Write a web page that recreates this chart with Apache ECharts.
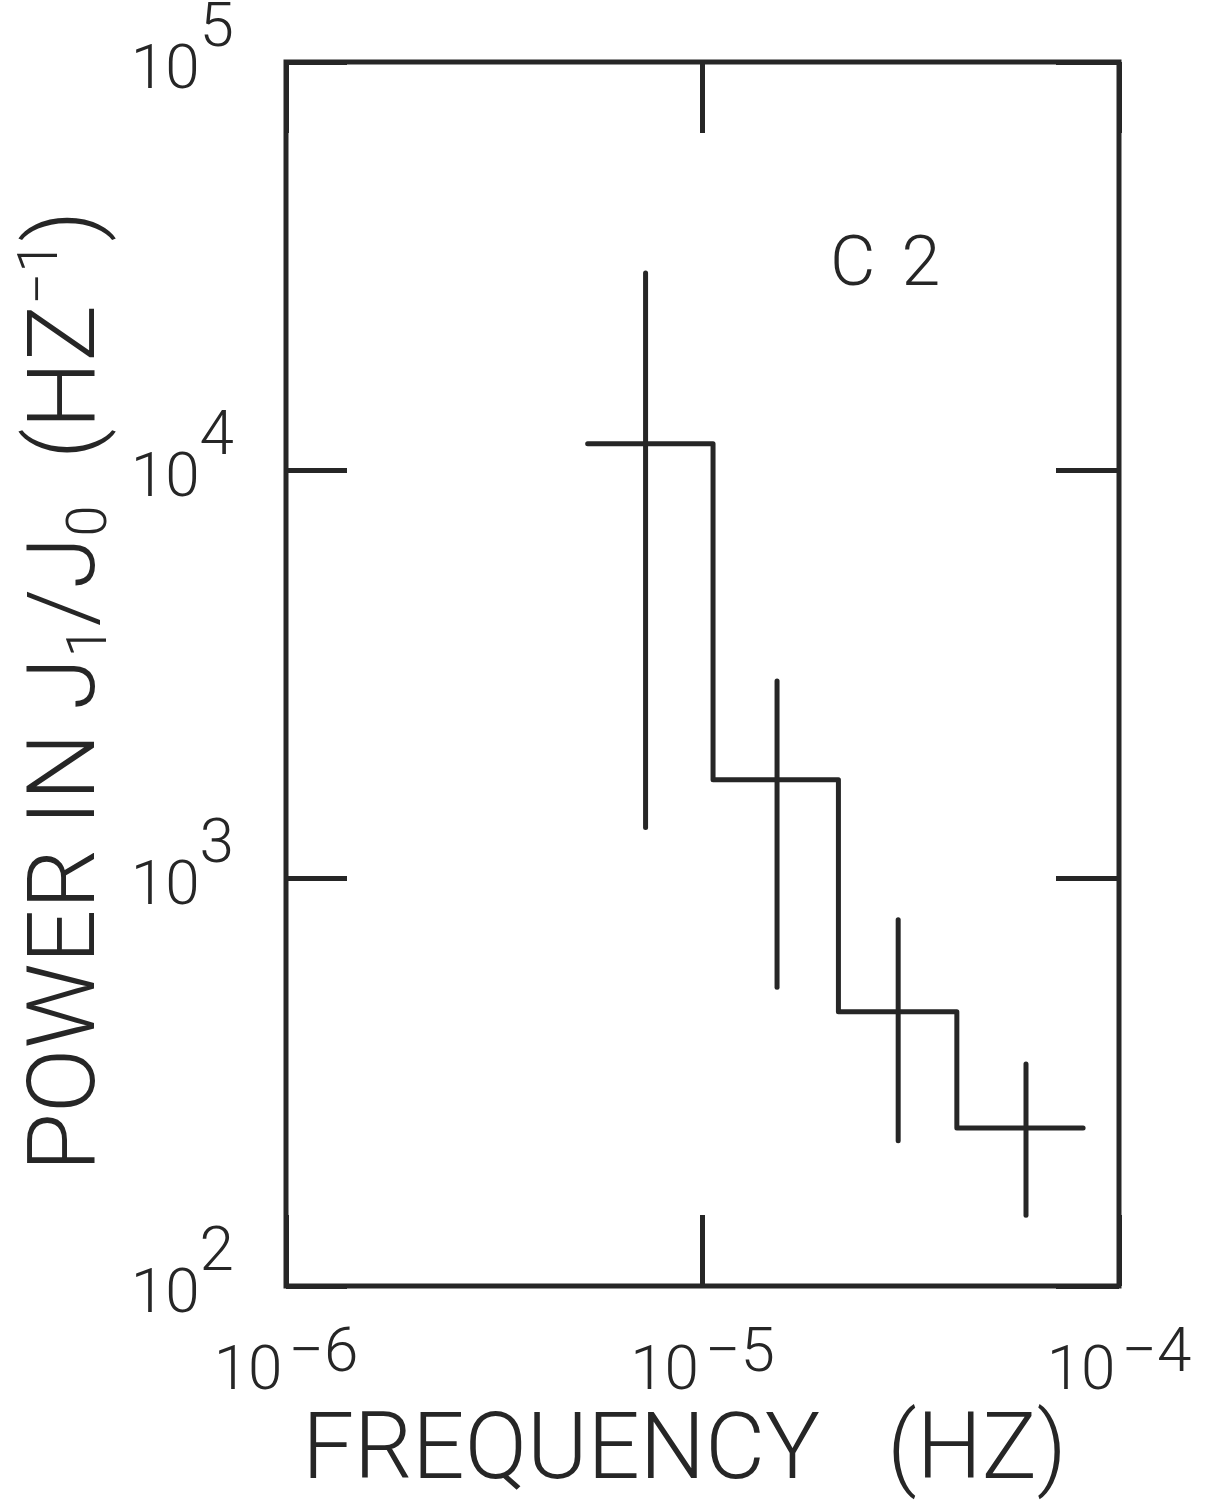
<!DOCTYPE html>
<html>
<head>
<meta charset="utf-8">
<script src="https://cdn.jsdelivr.net/npm/echarts@6/dist/echarts.min.js"></script>
<style>
  html, body { margin: 0; padding: 0; background: #ffffff; }
  #chart { width: 1207px; height: 1501px; }
</style>
</head>
<body>
<div id="chart"></div>
<script>
// Power spectrum of J1/J0 for interval C2: binned power (step) with error bars.
const binEdges = [5.3e-6, 1.06e-5, 2.12e-5, 4.08e-5, 8.2e-5];   // Hz
const binPower = [11600, 1740, 470, 244];                        // Hz^-1
const barFreq  = [7.3e-6, 1.51e-5, 2.95e-5, 5.98e-5];            // Hz
const barLow   = [1330, 540, 227, 149];
const barHigh  = [30400, 3040, 790, 350];
const xTickExponents = ['\u22126', '\u22125', '\u22124'];
const yTickExponents = ['2', '3', '4', '5'];
const panelLabel = ['C', '2'];

const INK = '#262626';
const FONT = 'Roboto, "Open Sans", "DejaVu Sans", sans-serif';

// step outline: each bin drawn flat across its edges
const stepPoints = [];
binPower.forEach((p, i) => {
  stepPoints.push([binEdges[i], p], [binEdges[i + 1], p]);
});
const errorData = barFreq.map((f, i) => [f, barLow[i], barHigh[i]]);

const tickStyle = { show: true, inside: true, lineStyle: { color: INK, width: 5 } };

const chart = echarts.init(document.getElementById('chart'), null, { renderer: 'canvas' });
chart.setOption({
  animation: false,
  backgroundColor: '#ffffff',
  grid: {
    left: 286, right: 88, top: 62, bottom: 215,
    show: true, borderColor: INK, borderWidth: 5,
    containLabel: false, outerBoundsMode: 'none'
  },
  xAxis: [
    {
      type: 'log', logBase: 10, min: 1e-6, max: 1e-4, position: 'bottom',
      axisLine: { show: false },
      axisTick: Object.assign({ length: 71 }, tickStyle),
      minorTick: { show: false },
      splitLine: { show: false },
      axisLabel: {
        margin: 38,
        formatter: (v, i) => '{b|10}{e|' + xTickExponents[i] + '}',
        rich: {
          b: { fontFamily: FONT, fontWeight: 300, fontSize: 62, color: INK },
          e: { fontFamily: FONT, fontWeight: 300, fontSize: 62, color: INK, padding: [0, 0, 36, 6] }
        }
      },
      name: 'FREQUENCY   (HZ)',
      nameLocation: 'middle',
      nameGap: 108,
      nameTextStyle: { fontFamily: FONT, fontWeight: 300, fontSize: 92, color: INK, padding: [0, 36, 0, 0] }
    },
    {
      type: 'log', logBase: 10, min: 1e-6, max: 1e-4, position: 'top',
      axisLine: { show: false },
      axisTick: Object.assign({ length: 71 }, tickStyle),
      minorTick: { show: false },
      splitLine: { show: false },
      axisLabel: { show: false }
    }
  ],
  yAxis: [
    {
      type: 'log', logBase: 10, min: 100, max: 1e5, position: 'left',
      axisLine: { show: false },
      axisTick: Object.assign({ length: 61 }, tickStyle),
      minorTick: { show: false },
      splitLine: { show: false },
      axisLabel: {
        margin: 52,
        formatter: (v, i) => '{b|10}{e|' + yTickExponents[i] + '}',
        rich: {
          b: { fontFamily: FONT, fontWeight: 300, fontSize: 62, color: INK, padding: [20, 0, 0, 0] },
          e: { fontFamily: FONT, fontWeight: 300, fontSize: 62, color: INK, padding: [0, 0, 64, 0] }
        }
      },
      name: 'POWER IN J{s|1}/J{s|0}  (HZ{p|\u22121})',
      nameLocation: 'middle',
      nameRotate: 90,
      nameGap: 158,
      nameTextStyle: {
        fontFamily: FONT, fontWeight: 300, fontSize: 95, color: INK,
        padding: [0, 34, 0, 0],
        rich: {
          s: { fontFamily: FONT, fontWeight: 300, fontSize: 56, color: INK, padding: [44, 0, 0, 0] },
          p: { fontFamily: FONT, fontWeight: 300, fontSize: 56, color: INK, padding: [0, 0, 54, 0] }
        }
      }
    },
    {
      type: 'log', logBase: 10, min: 100, max: 1e5, position: 'right',
      axisLine: { show: false },
      axisTick: Object.assign({ length: 63 }, tickStyle),
      minorTick: { show: false },
      splitLine: { show: false },
      axisLabel: { show: false }
    }
  ],
  graphic: [
    {
      type: 'text', left: 830, top: 232,
      style: {
        text: '{c|' + panelLabel[0] + '}{d|' + panelLabel[1] + '}',
        rich: {
          c: { font: '300 70px ' + FONT, fill: INK },
          d: { font: '300 70px ' + FONT, fill: INK, padding: [0, 0, 0, 26] }
        }
      }
    }
  ],
  series: [
    {
      type: 'line',
      xAxisIndex: 0, yAxisIndex: 0,
      data: stepPoints,
      symbol: 'none',
      lineStyle: { color: INK, width: 5, cap: 'round', join: 'round' }
    },
    {
      type: 'custom',
      xAxisIndex: 0, yAxisIndex: 0,
      data: errorData,
      encode: { x: 0, y: [1, 2] },
      renderItem: (params, api) => {
        const lo = api.coord([api.value(0), api.value(1)]);
        const hi = api.coord([api.value(0), api.value(2)]);
        return {
          type: 'line',
          shape: { x1: lo[0], y1: lo[1], x2: hi[0], y2: hi[1] },
          style: { stroke: INK, lineWidth: 5, lineCap: 'round' }
        };
      }
    }
  ]
});
</script>
</body>
</html>
